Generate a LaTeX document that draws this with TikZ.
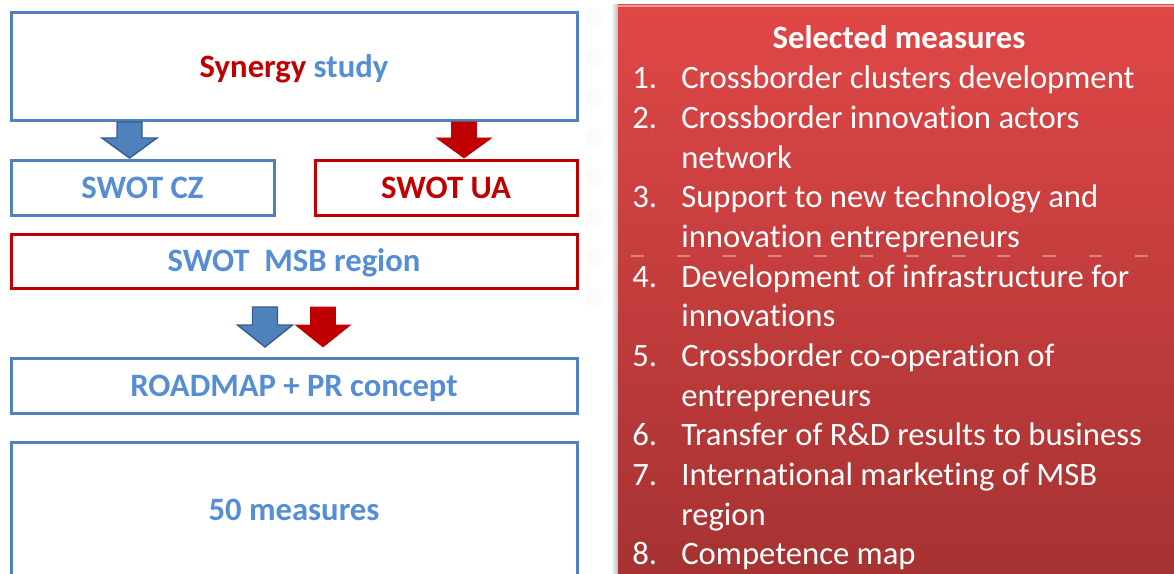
\documentclass[tikz,border=0pt]{standalone}
\usepackage{fontspec}
\setmainfont{Carlito}[Ligatures=NoCommon]
\usepackage{tikz}

\definecolor{boxblue}{HTML}{4F81BD}
\definecolor{txtblue}{HTML}{558ED5}
\definecolor{boxred}{HTML}{C00000}
\definecolor{arrblue}{HTML}{385D8A}
\definecolor{pantop}{HTML}{E04747}
\definecolor{panbot}{HTML}{A63232}

% #1 style, #2 centre x, #3 top y, #4 head y, #5 tip y
\newcommand{\fatarrow}[5]{%
  \filldraw[#1] (#2-12.5,#3) -- (#2+12.5,#3) -- (#2+12.5,#4) -- (#2+27.5,#4)
    -- (#2,#5) -- (#2-27.5,#4) -- (#2-12.5,#4) -- cycle;}

\tikzset{
  bigfont/.style={font=\fontsize{24.5}{29.75}\selectfont},
  stagebox/.style={draw=boxblue, line width=2.25pt, inner sep=0pt,
    text height=15.8pt, text depth=0pt,
    text=txtblue, font=\fontsize{24.5}{29.75}\selectfont\bfseries},
  redbox/.style={stagebox, draw=boxred},
  itemtext/.style={anchor=base west, inner sep=0pt, text=white, bigfont},
}

\begin{document}
\begin{tikzpicture}[x=0.75pt, y=-0.75pt]
            \useasboundingbox (0,0) rectangle (1174,574);

            \foreach \yy in {17,57,...,297}
              \fill[gray!3] (594,\yy) circle (9);

            % box sizes in pt (pixel size times 0.75)
            \node[stagebox, minimum width=424.5pt, minimum height=81pt] (syn) at (294,67)
              {\textcolor{boxred}{Synergy} study};
            \node[stagebox, minimum width=197.25pt, minimum height=40.5pt] (cz) at (142.5,188) {SWOT CZ};
            \node[redbox, minimum width=196.5pt, minimum height=40.5pt, text=boxred] (ua) at (446,188) {SWOT UA};
            \node[redbox, minimum width=424.5pt, minimum height=40.5pt] (msb) at (294,261) {SWOT\ \ MSB region};
            \node[stagebox, minimum width=424.5pt, minimum height=41.25pt] (road) at (294,385.5) {ROADMAP + PR concept};
            \node[stagebox, minimum width=424.5pt, minimum height=102pt] (fifty) at (294,510) {50 measures};

            \fatarrow{fill=boxblue, draw=arrblue, line width=1.1pt}{129.5}{122}{138}{158}
            \fatarrow{fill=boxred, draw=boxred, line width=0.5pt}{464}{122}{138}{158}
            \fatarrow{fill=boxblue, draw=arrblue, line width=1.1pt}{265}{307}{325}{347}
            \fatarrow{fill=boxred, draw=boxred, line width=0.5pt}{323}{307}{325}{347}

            \shade[left color=white, right color=gray!55] (611,5) rectangle (618,574);
            \shade[top color=pantop, bottom color=panbot] (618,5) rectangle (1174,574);
            \draw[pantop!55!white, line width=1.2pt] (618,6) -- (1174,6);
            \draw[white, opacity=0.35, line width=0.8pt, dash pattern=on 9.75pt off 24.6pt]
              (631,256) -- (1149,256);

            \node[anchor=base, inner sep=0pt, text=white, font=\fontsize{24.5}{29.75}\selectfont\bfseries]
              (sel) at (899,49) {Selected measures};

            \foreach \num/\k in {1/1, 2/2, 3/4, 4/6, 5/8, 6/10, 7/11, 8/13}
              \node[itemtext] (n\k) at (632,49+39.67*\k) {\num.};
            \foreach \txt [count=\k] in {Crossborder clusters development,
                Crossborder innovation actors, network,
                Support to new technology and, innovation entrepreneurs,
                Development of infrastructure for, innovations,
                Crossborder co-operation of, entrepreneurs,
                Transfer of R\&D results to business,
                International marketing of MSB, region,
                Competence map}
              \node[itemtext] (t\k) at (681,49+39.67*\k) {\txt};
        \end{tikzpicture}
\end{document}
